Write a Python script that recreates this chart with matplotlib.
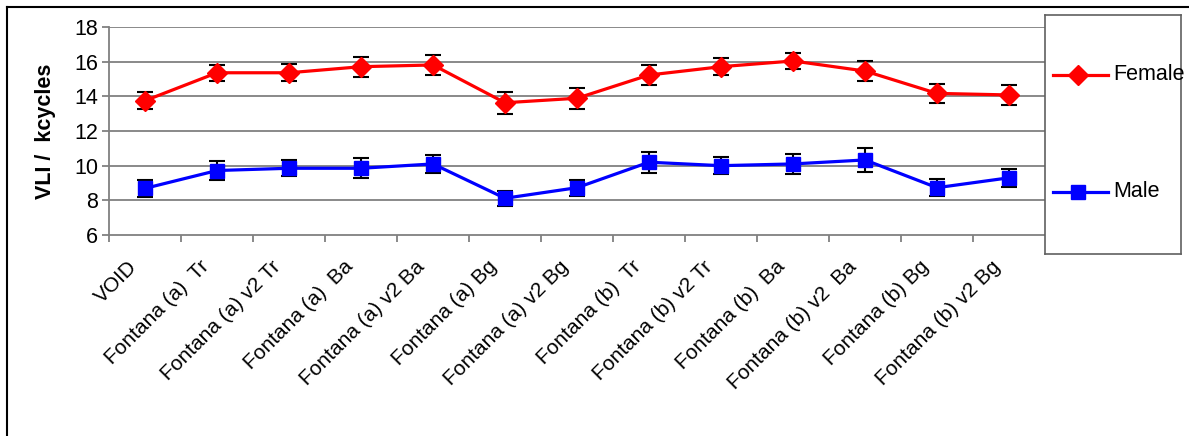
import matplotlib.pyplot as plt
import matplotlib.transforms as mtransforms
from matplotlib.lines import Line2D

plt.rcParams['font.family'] = ['Liberation Sans', 'DejaVu Sans']

# Data
categories = ['VOID', 'Fontana (a)  Tr', 'Fontana (a) v2 Tr', 'Fontana (a)  Ba',
              'Fontana (a) v2 Ba', 'Fontana (a) Bg', 'Fontana (a) v2 Bg',
              'Fontana (b)  Tr', 'Fontana (b) v2 Tr', 'Fontana (b)  Ba',
              'Fontana (b) v2  Ba', 'Fontana (b) Bg', 'Fontana (b) v2 Bg']
female = [13.75, 15.36, 15.36, 15.71, 15.81, 13.63, 13.89, 15.23, 15.71, 16.04, 15.46, 14.17, 14.08]
female_err = [0.50, 0.45, 0.50, 0.57, 0.60, 0.63, 0.60, 0.58, 0.50, 0.46, 0.57, 0.53, 0.58]
male = [8.69, 9.72, 9.85, 9.85, 10.10, 8.12, 8.73, 10.20, 10.00, 10.10, 10.33, 8.73, 9.30]
male_err = [0.47, 0.56, 0.46, 0.58, 0.53, 0.43, 0.47, 0.60, 0.50, 0.56, 0.68, 0.50, 0.52]

fig = plt.figure(figsize=(11.89, 4.36), dpi=100)
W, H = 1189, 436
ax = fig.add_axes([109 / W, 1 - 235 / H, (1045 - 109) / W, (235 - 27) / H])

x = list(range(len(categories)))

# Grid lines
for yv in range(8, 19, 2):
    ax.axhline(yv, color='#808080', lw=1.3, zorder=0)

ax.errorbar(x, female, yerr=female_err, fmt='none', ecolor='black',
            elinewidth=1.5, capsize=6, capthick=1.5, zorder=2)
ax.errorbar(x, male, yerr=male_err, fmt='none', ecolor='black',
            elinewidth=1.5, capsize=6, capthick=1.5, zorder=2)
ax.plot(x, female, color='#ff0000', lw=2.3, marker='D', markersize=10,
        label='Female', zorder=3)
ax.plot(x, male, color='#0000ff', lw=2.3, marker='s', markersize=9.5,
        label='Male', zorder=3)

ax.set_xlim(-0.5, len(categories) - 0.5)
ax.set_ylim(6, 18)
ax.set_yticks(range(6, 19, 2))
ax.set_xticks([i - 0.5 for i in range(len(categories))])
ax.set_xticklabels([])
ax.tick_params(axis='x', direction='out', length=5, color='#808080', width=1.3)
ax.tick_params(axis='y', direction='out', length=5, color='#808080', width=1.3,
               labelsize=15.5, pad=3)

# category labels, rotated
lbl_trans = (mtransforms.blended_transform_factory(ax.transData, ax.transAxes)
             + mtransforms.ScaledTranslation(-18 / 100, -22 / 100, fig.dpi_scale_trans))
for i, lab in enumerate(categories):
    ax.text(i, 0, lab, transform=lbl_trans, rotation=45, ha='right', va='top',
            rotation_mode='anchor', fontsize=15)

for s in ['top', 'right']:
    ax.spines[s].set_visible(False)
for s in ['left', 'bottom']:
    ax.spines[s].set_color('#808080')
    ax.spines[s].set_linewidth(1.3)

ax.set_ylabel('VLI /  kcycles', fontsize=15.5, fontweight='bold')
ax.yaxis.set_label_coords(-0.057, 0.5)

# Legend box
lax = fig.add_axes([1045 / W, 1 - 254 / H, (1181 - 1045) / W, (254 - 15) / H])
lax.set_xlim(0, 1)
lax.set_ylim(0, 1)
lax.set_xticks([])
lax.set_yticks([])
for s in lax.spines.values():
    s.set_color('#606060')
    s.set_linewidth(1.2)
lax.plot([0.06, 0.46], [0.75, 0.75], color='#ff0000', lw=2.3)
lax.plot([0.24], [0.75], color='#ff0000', marker='D', markersize=10)
lax.text(0.5, 0.75, 'Female', fontsize=15.5, va='center', ha='left')
lax.plot([0.06, 0.46], [0.26, 0.26], color='#0000ff', lw=2.3)
lax.plot([0.24], [0.26], color='#0000ff', marker='s', markersize=9.5)
lax.text(0.5, 0.26, 'Male', fontsize=15.5, va='center', ha='left')

# Outer frame (top and left edges)
fig.add_artist(Line2D([7 / W, 7 / W], [0, 1 - 7 / H], color='black', lw=1.5,
                      transform=fig.transFigure))
fig.add_artist(Line2D([7 / W, 1], [1 - 7 / H, 1 - 7 / H], color='black', lw=1.5,
                      transform=fig.transFigure))

fig.savefig('out.png', dpi=100, facecolor='white')
